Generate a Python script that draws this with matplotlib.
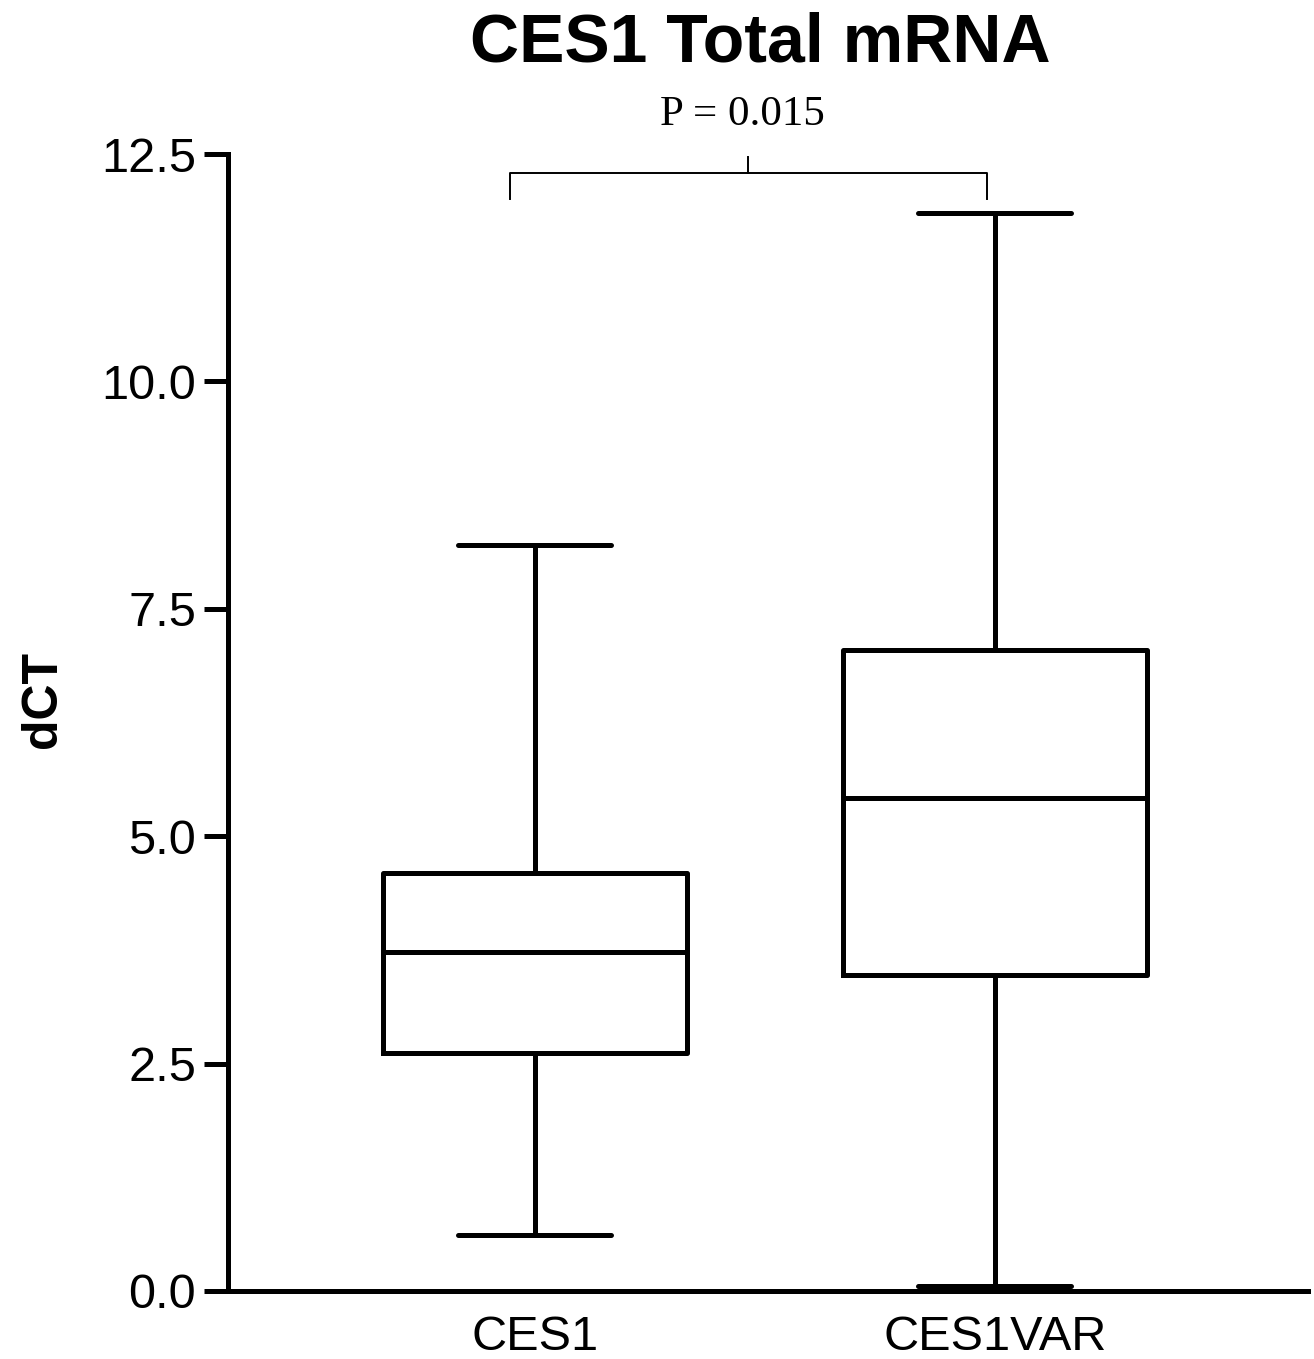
import matplotlib
matplotlib.use('Agg')
import matplotlib.pyplot as plt

plt.rcParams['font.family'] = ['Liberation Sans', 'DejaVu Sans']

groups = ['CES1', 'CES1VAR']
whisker_low = [0.62, 0.05]
q1 = [2.62, 3.47]
median = [3.73, 5.42]
q3 = [4.60, 7.05]
whisker_high = [8.20, 11.85]
p_text = 'P = 0.015'

stats = []
for i, g in enumerate(groups):
    stats.append({'label': g, 'whislo': whisker_low[i], 'q1': q1[i], 'med': median[i],
                  'q3': q3[i], 'whishi': whisker_high[i], 'fliers': []})

W, H = 1314, 1359
fig = plt.figure(figsize=(W / 100, H / 100), dpi=100)
ax = fig.add_axes([228 / W, (H - 1291) / H, (1308 - 228) / W, (1291 - 154) / H])

lw = 3.6
ax.bxp(stats, positions=[1, 2], widths=0.66, capwidths=0.333, showfliers=False,
       boxprops=dict(color='black', linewidth=lw),
       medianprops=dict(color='black', linewidth=lw),
       whiskerprops=dict(color='black', linewidth=lw),
       capprops=dict(color='black', linewidth=lw, solid_capstyle='round'))

ax.set_xlim(0.333, 2.681)
ax.set_ylim(0, 12.5)
ax.set_yticks([0, 2.5, 5.0, 7.5, 10.0, 12.5])
ax.set_yticklabels(['0.0', '2.5', '5.0', '7.5', '10.0', '12.5'])
ax.spines['top'].set_visible(False)
ax.spines['right'].set_visible(False)
for s in ['left', 'bottom']:
    ax.spines[s].set_linewidth(lw)
ax.tick_params(axis='y', length=17, width=lw, pad=6, labelsize=35)
ax.tick_params(axis='x', length=0, pad=17, labelsize=35)

# significance bracket
bk = dict(color='black', linewidth=1.4, clip_on=False)
ax.plot([0.946, 0.946, 1.983, 1.983], [12.01, 12.29, 12.29, 12.01], **bk)
ax.plot([1.463, 1.463], [12.29, 12.47], **bk)
ax.text(1.452, 12.93, p_text, ha='center', va='center', fontsize=31,
        family=['Liberation Serif', 'DejaVu Serif'])

fig.text(760 / W, 1 - 44 / H, 'CES1 Total mRNA', ha='center', va='center',
         fontsize=49, fontweight='bold')
fig.text(43 / W, 1 - 700 / H, 'dCT', ha='center', va='center', rotation=90,
         fontsize=36, fontweight='bold')

fig.savefig('out.png', dpi=100)
